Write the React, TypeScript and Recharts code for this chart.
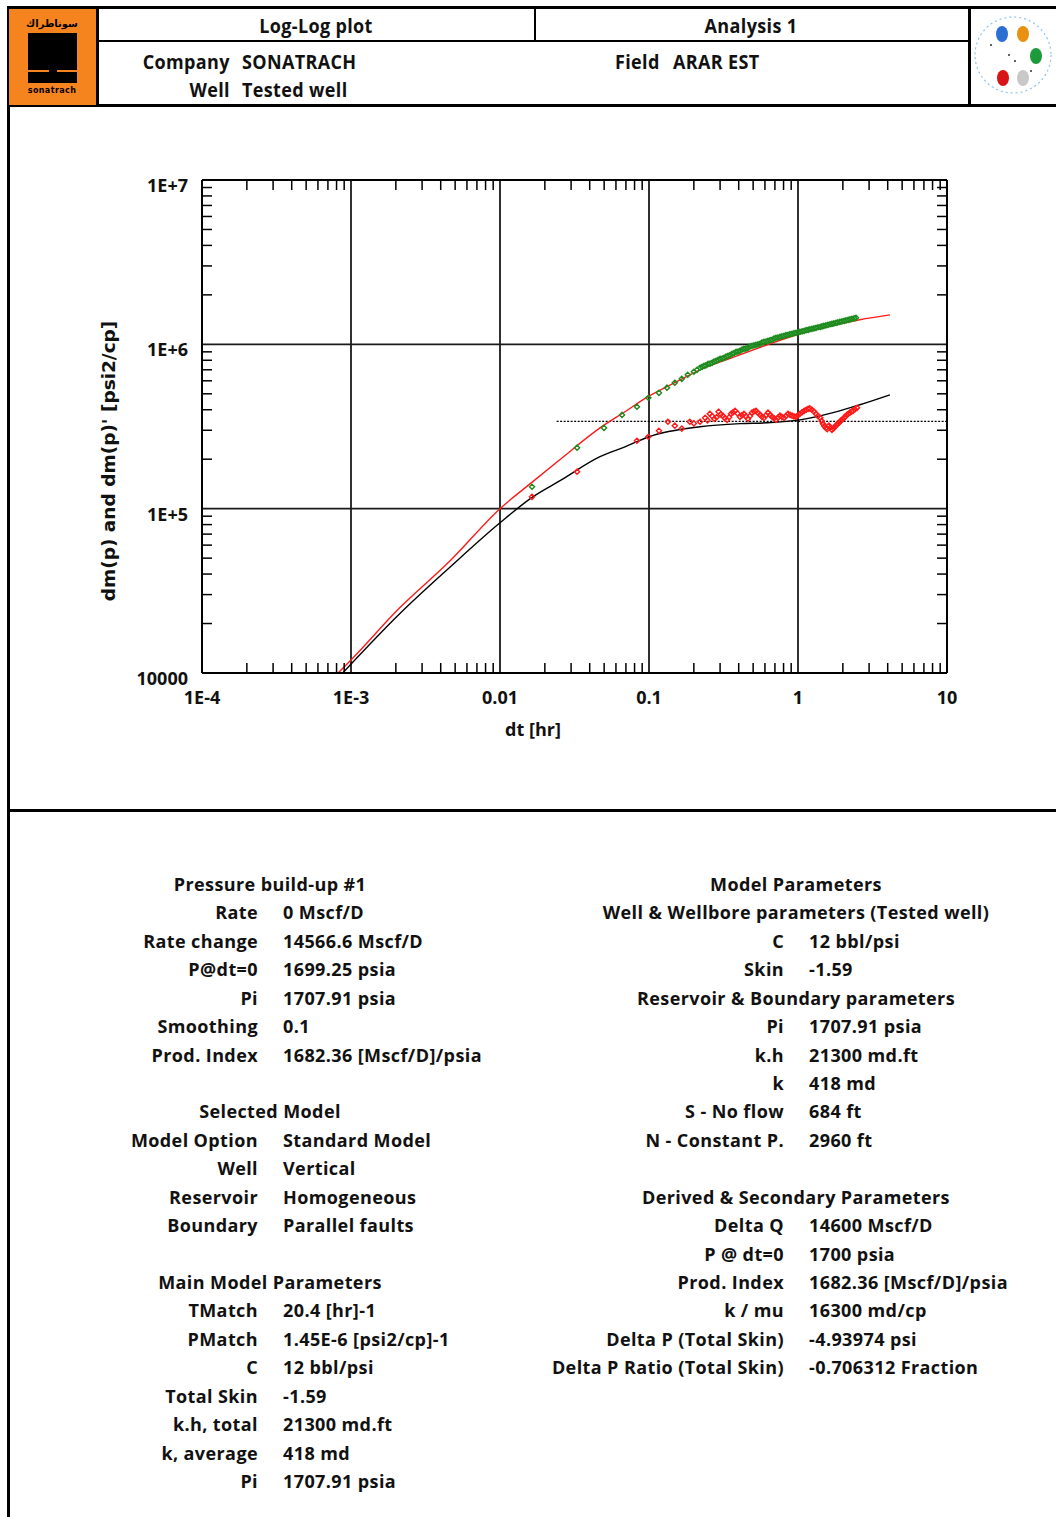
import { CartesianGrid, ComposedChart, Line, Scatter, XAxis, YAxis } from "recharts";

const xMajorTicks = [1e-4, 1e-3, 0.01, 0.1, 1, 10];
const xTickLabels = ["1E-4", "1E-3", "0.01", "0.1", "1", "10"];
const yMajorTicks = [1e4, 1e5, 1e6, 1e7];
const yTickLabels = ["10000", "1E+5", "1E+6", "1E+7"];
const minorSteps = [2, 3, 4, 5, 6, 7, 8, 9];
const xMinorTicks = [1e-4, 1e-3, 0.01, 0.1, 1].flatMap((d) => minorSteps.map((m) => m * d));
const yMinorTicks = [1e4, 1e5, 1e6].flatMap((d) => minorSteps.map((m) => m * d));

// model curves [dt hr, dm(p)]
const modelPressure: [number, number][] = [
  [8.2e-4, 1.0e4], [1e-3, 1.2e4], [2.13e-3, 2.5e4], [4.61e-3, 4.8e4], [0.01, 1.0e5],
  [0.0166, 1.46e5], [0.0253, 1.99e5], [0.0469, 3.1e5], [0.069, 3.89e5], [0.0985, 4.8e5],
  [0.149, 5.84e5], [0.22, 7.0e5], [0.366, 8.34e5], [0.62, 9.93e5], [1.03, 1.16e6],
  [1.72, 1.3e6], [2.6, 1.41e6], [4.14, 1.51e6],
];
const modelDerivative: [number, number][] = [
  [8.8e-4, 1.0e4], [2.13e-3, 2.3e4], [4.61e-3, 4.4e4], [0.01, 8.2e4], [0.0166, 1.18e5],
  [0.0253, 1.48e5], [0.0469, 2.07e5], [0.069, 2.38e5], [0.1, 2.74e5], [0.22, 3.15e5],
  [0.408, 3.29e5], [0.62, 3.33e5], [1.03, 3.47e5], [1.72, 3.84e5], [2.6, 4.29e5], [4.14, 4.93e5],
];
const stabilization: [number, number][] = [[0.024, 3.4e5], [10, 3.4e5]];

// measured data
const pressureData: [number, number][] = [
  [0.0164, 1.36e5], [0.0329, 2.35e5], [0.0499, 3.1e5], [0.0659, 3.72e5], [0.083, 4.17e5],
  [0.099, 4.73e5], [0.1166, 5.07e5], [0.132, 5.45e5], [0.149, 5.84e5], [0.166, 6.17e5],
  [0.182, 6.53e5], [0.2, 6.81e5], [0.21, 7.0e5], [0.22, 7.2e5], [0.227, 7.3e5], [0.234, 7.39e5],
  [0.241, 7.45e5], [0.249, 7.6e5], [0.257, 7.64e5], [0.265, 7.72e5], [0.273, 7.85e5],
  [0.282, 7.94e5], [0.291, 8.05e5], [0.3, 8.17e5], [0.31, 8.2e5], [0.319, 8.28e5],
  [0.329, 8.42e5], [0.339, 8.51e5], [0.35, 8.6e5], [0.361, 8.75e5], [0.372, 8.85e5],
  [0.384, 9.0e5], [0.396, 9.03e5], [0.408, 9.12e5], [0.421, 9.3e5], [0.434, 9.39e5],
  [0.447, 9.42e5], [0.461, 9.52e5], [0.476, 9.7e5], [0.491, 9.79e5], [0.506, 9.85e5],
  [0.522, 9.93e5], [0.539, 1.0e6], [0.556, 1.007e6], [0.573, 1.025e6], [0.591, 1.035e6],
  [0.61, 1.04e6], [0.629, 1.05e6], [0.65, 1.06e6], [0.67, 1.065e6], [0.69, 1.085e6],
  [0.711, 1.095e6], [0.733, 1.1e6], [0.757, 1.11e6], [0.78, 1.12e6], [0.805, 1.127e6],
  [0.83, 1.137e6], [0.857, 1.143e6], [0.884, 1.155e6], [0.912, 1.159e6], [0.94, 1.17e6],
  [0.97, 1.175e6], [1.0, 1.185e6], [1.03, 1.191e6], [1.065, 1.2e6], [1.1, 1.208e6],
  [1.135, 1.22e6], [1.17, 1.225e6], [1.2, 1.235e6], [1.24, 1.242e6], [1.28, 1.25e6],
  [1.32, 1.259e6], [1.36, 1.27e6], [1.41, 1.277e6], [1.45, 1.285e6], [1.49, 1.295e6],
  [1.54, 1.305e6], [1.59, 1.314e6], [1.64, 1.325e6], [1.69, 1.333e6], [1.74, 1.34e6],
  [1.8, 1.352e6], [1.85, 1.36e6], [1.91, 1.371e6], [1.97, 1.38e6], [2.04, 1.39e6],
  [2.1, 1.4e6], [2.17, 1.41e6], [2.23, 1.42e6], [2.3, 1.43e6], [2.38, 1.44e6], [2.45, 1.45e6],
];
const derivativeData: [number, number][] = [
  [0.0164, 1.18e5], [0.0329, 1.68e5], [0.083, 2.59e5], [0.099, 2.74e5], [0.1166, 2.98e5],
  [0.134, 3.38e5], [0.149, 3.2e5], [0.166, 3.07e5], [0.188, 3.38e5], [0.2, 3.3e5], [0.22, 3.38e5],
  [0.238, 3.57e5], [0.247, 3.45e5], [0.256, 3.78e5], [0.265, 3.66e5], [0.275, 3.52e5],
  [0.284, 3.6e5], [0.293, 3.89e5], [0.303, 3.75e5], [0.313, 3.68e5], [0.323, 3.55e5],
  [0.334, 3.47e5], [0.345, 3.6e5], [0.355, 3.78e5], [0.366, 3.85e5], [0.378, 3.94e5],
  [0.393, 3.8e5], [0.408, 3.62e5], [0.421, 3.7e5], [0.434, 3.78e5], [0.447, 3.64e5],
  [0.461, 3.52e5], [0.476, 3.66e5], [0.491, 3.84e5], [0.506, 3.9e5], [0.522, 3.94e5],
  [0.539, 3.82e5], [0.556, 3.73e5], [0.573, 3.62e5], [0.591, 3.57e5], [0.61, 3.7e5],
  [0.629, 3.84e5], [0.65, 3.72e5], [0.67, 3.62e5], [0.69, 3.55e5], [0.711, 3.47e5],
  [0.733, 3.58e5], [0.757, 3.68e5], [0.78, 3.62e5], [0.805, 3.57e5], [0.83, 3.66e5],
  [0.857, 3.78e5], [0.884, 3.72e5], [0.912, 3.68e5], [0.94, 3.64e5], [0.97, 3.62e5],
  [1.0, 3.7e5], [1.03, 3.78e5], [1.065, 3.86e5], [1.1, 3.94e5], [1.135, 4.0e5],
  [1.17, 4.05e5], [1.2, 4.08e5], [1.24, 4.0e5], [1.28, 3.9e5], [1.32, 3.78e5],
  [1.36, 3.66e5], [1.41, 3.57e5], [1.44, 3.42e5], [1.47, 3.29e5], [1.5, 3.18e5],
  [1.54, 3.1e5], [1.57, 3.05e5], [1.61, 3.2e5], [1.65, 3.12e5], [1.69, 3.02e5],
  [1.73, 3.08e5], [1.77, 3.15e5], [1.81, 3.22e5], [1.85, 3.29e5], [1.9, 3.36e5],
  [1.94, 3.43e5], [1.99, 3.5e5], [2.04, 3.57e5], [2.08, 3.64e5], [2.13, 3.73e5],
  [2.18, 3.78e5], [2.23, 3.84e5], [2.29, 3.9e5], [2.34, 3.94e5], [2.41, 4.02e5], [2.49, 4.11e5],
];

// text tables: [row, label, value]; label only = centred heading
const leftRows: [number, string, string?][] = [
  [0, "Pressure build-up #1"],
  [1, "Rate", "0 Mscf/D"],
  [2, "Rate change", "14566.6 Mscf/D"],
  [3, "P@dt=0", "1699.25 psia"],
  [4, "Pi", "1707.91 psia"],
  [5, "Smoothing", "0.1"],
  [6, "Prod. Index", "1682.36 [Mscf/D]/psia"],
  [8, "Selected Model"],
  [9, "Model Option", "Standard Model"],
  [10, "Well", "Vertical"],
  [11, "Reservoir", "Homogeneous"],
  [12, "Boundary", "Parallel faults"],
  [14, "Main Model Parameters"],
  [15, "TMatch", "20.4 [hr]-1"],
  [16, "PMatch", "1.45E-6 [psi2/cp]-1"],
  [17, "C", "12 bbl/psi"],
  [18, "Total Skin", "-1.59"],
  [19, "k.h, total", "21300 md.ft"],
  [20, "k, average", "418 md"],
  [21, "Pi", "1707.91 psia"],
];
const rightRows: [number, string, string?][] = [
  [0, "Model Parameters"],
  [1, "Well & Wellbore parameters (Tested well)"],
  [2, "C", "12 bbl/psi"],
  [3, "Skin", "-1.59"],
  [4, "Reservoir & Boundary parameters"],
  [5, "Pi", "1707.91 psia"],
  [6, "k.h", "21300 md.ft"],
  [7, "k", "418 md"],
  [8, "S - No flow", "684 ft"],
  [9, "N - Constant P.", "2960 ft"],
  [11, "Derived & Secondary Parameters"],
  [12, "Delta Q", "14600 Mscf/D"],
  [13, "P @ dt=0", "1700 psia"],
  [14, "Prod. Index", "1682.36 [Mscf/D]/psia"],
  [15, "k / mu", "16300 md/cp"],
  [16, "Delta P (Total Skin)", "-4.93974 psi"],
  [17, "Delta P Ratio (Total Skin)", "-0.706312 Fraction"],
];

const toPts = (arr: [number, number][]) => arr.map(([t, p]) => ({ t, p }));

const FONT = "'Open Sans', 'Noto Sans', sans-serif";
const INK = "#111";

const XTick = (props: any) => {
  const i = xMajorTicks.indexOf(props.payload.value);
  return (
    <text x={props.x} y={props.y + 31} textAnchor="middle" fontFamily={FONT} fontWeight={700} fontSize={18} fill={INK}>
      {xTickLabels[i]}
    </text>
  );
};

const YTick = (props: any) => {
  const i = yMajorTicks.indexOf(props.payload.value);
  return (
    <text x={props.x - 14} y={props.y + 12} textAnchor="end" fontFamily={FONT} fontWeight={700} fontSize={18} fill={INK}>
      {yTickLabels[i]}
    </text>
  );
};

const EmptyTick = () => <g />;

const Diamond = (color: string) => (props: any) => {
  const { cx, cy } = props;
  if (cx == null || cy == null) return <g />;
  return (
    <path d={`M${cx},${cy - 2.6}L${cx + 2.6},${cy}L${cx},${cy + 2.6}L${cx - 2.6},${cy}Z`} fill="none" stroke={color} strokeWidth={1.4} />
  );
};

const tickStroke = { stroke: "#000", strokeWidth: 1.5 };
const border = { stroke: "#000", strokeWidth: 2 };

const LogLogChart = () => (
  <ComposedChart width={1000} height={660} margin={{ top: 70, right: 53, bottom: 37, left: 0 }}>
    <CartesianGrid stroke="#1a1a1a" strokeWidth={1.8} />
    <XAxis
      dataKey="t"
      type="number"
      scale="log"
      domain={[1e-4, 10]}
      allowDataOverflow
      ticks={xMajorTicks}
      interval={0}
      tickLine={false}
      tickSize={0}
      tickMargin={0}
      height={60}
      axisLine={border}
      tick={<XTick />}
      label={(p: any) => {
        const vb = p.viewBox || { x: 202, y: 563 };
        return (
          <text x={vb.x + 331} y={vb.y + 63} textAnchor="middle" fontFamily={FONT} fontWeight={700} fontSize={18} fill={INK}>
            dt [hr]
          </text>
        );
      }}
    />
    <XAxis xAxisId="bm" dataKey="t" type="number" scale="log" domain={[1e-4, 10]} allowDataOverflow ticks={xMinorTicks}
      interval={0} tick={<EmptyTick />} tickSize={10} mirror axisLine={false} tickLine={tickStroke} />
    <XAxis xAxisId="tm" dataKey="t" orientation="top" type="number" scale="log" domain={[1e-4, 10]} allowDataOverflow ticks={xMinorTicks}
      interval={0} tick={<EmptyTick />} tickSize={10} mirror axisLine={border} tickLine={tickStroke} />
    <YAxis
      type="number"
      scale="log"
      domain={[1e4, 1e7]}
      allowDataOverflow
      ticks={yMajorTicks}
      interval={0}
      tickLine={false}
      tickSize={0}
      tickMargin={0}
      width={202}
      axisLine={border}
      tick={<YTick />}
      label={(p: any) => {
        const vb = p.viewBox || { x: 0, y: 70 };
        const x = vb.x + 108;
        const y = vb.y + 281;
        return (
          <text x={x} y={y} transform={`rotate(-90, ${x}, ${y})`} textAnchor="middle" dominantBaseline="central"
            fontFamily="'DejaVu Sans', sans-serif" fontWeight={700} fontSize={18.5} fill={INK}>
            {"dm(p) and dm(p)'  [psi2/cp]"}
          </text>
        );
      }}
    />
    <YAxis yAxisId="lm" type="number" scale="log" domain={[1e4, 1e7]} allowDataOverflow ticks={yMinorTicks}
      interval={0} tick={<EmptyTick />} tickSize={10} mirror axisLine={false} tickLine={tickStroke} />
    <YAxis yAxisId="rm" orientation="right" type="number" scale="log" domain={[1e4, 1e7]} allowDataOverflow ticks={yMinorTicks}
      interval={0} tick={<EmptyTick />} tickSize={10} mirror axisLine={border} tickLine={tickStroke} />
    <Line data={toPts(stabilization)} dataKey="p" stroke="#000" strokeWidth={1.3} strokeDasharray="2 1.5" dot={false} isAnimationActive={false} />
    <Line type="monotone" data={toPts(modelDerivative)} dataKey="p" stroke="#000" strokeWidth={1.4} dot={false} isAnimationActive={false} />
    <Line type="monotone" data={toPts(modelPressure)} dataKey="p" stroke="#ff1a1a" strokeWidth={1.4} dot={false} isAnimationActive={false} />
    <Scatter data={toPts(derivativeData)} dataKey="p" shape={Diamond("#ff1a1a")} isAnimationActive={false} />
    <Scatter data={toPts(pressureData)} dataKey="p" shape={Diamond("#1e8c1e")} isAnimationActive={false} />
  </ComposedChart>
);

const ROW0 = 884;
const ROW_H = 28.43;

const TextTable = ({ rows, split }: { rows: [number, string, string?][]; split: number }) => (
  <>
    {rows.map(([r, label, value]) => {
      const top = ROW0 + r * ROW_H - 13;
      if (value === undefined) {
        return (
          <div key={r} style={{ position: "absolute", top, left: split - 300, width: 600, textAlign: "center", lineHeight: "26px" }}>
            {label}
          </div>
        );
      }
      return (
        <div key={r}>
          <div style={{ position: "absolute", top, right: 1056 - (split - 12), whiteSpace: "nowrap", lineHeight: "26px" }}>{label}</div>
          <div style={{ position: "absolute", top, left: split + 13, whiteSpace: "nowrap", lineHeight: "26px" }}>{value}</div>
        </div>
      );
    })}
  </>
);

const line = (style: React.CSSProperties) => <div style={{ position: "absolute", background: "#000", ...style }} />;

const SonatrachLogo = () => (
  <svg width={87} height={96} style={{ position: "absolute", left: 9, top: 9 }}>
    <rect x={0} y={0} width={87} height={96} fill="#f5841f" />
    <text x={43} y={18} textAnchor="middle" fontSize={10} fontWeight={700} fontFamily="'DejaVu Sans', sans-serif" fill="#000">
      سوناطراك
    </text>
    <rect x={19} y={24} width={49} height={37} fill="#000" />
    <rect x={19} y={63} width={49} height={11} fill="#000" />
    <rect x={40} y={60} width={8} height={4} fill="#000" />
    <text x={43} y={84} textAnchor="middle" fontSize={8} fontWeight={700} fontFamily="'DejaVu Sans', sans-serif" fill="#000">
      sonatrach
    </text>
  </svg>
);

const BallsLogo = () => (
  <svg width={84} height={96} style={{ position: "absolute", left: 971, top: 9 }}>
    <circle cx={42} cy={46} r={38} fill="none" stroke="#8cc4f0" strokeWidth={1.2} strokeDasharray="2 3" />
    <ellipse cx={31} cy={25} rx={6} ry={8} fill="#2a6fd1" />
    <ellipse cx={52} cy={25} rx={6} ry={8} fill="#e8900f" />
    <ellipse cx={65} cy={47} rx={6} ry={8} fill="#1d9a3a" />
    <ellipse cx={32} cy={69} rx={6} ry={8} fill="#d81414" />
    <ellipse cx={52} cy={69} rx={6} ry={8} fill="#c8c8c8" />
    <circle cx={20} cy={36} r={1} fill="#333" />
    <circle cx={44} cy={52} r={1} fill="#333" />
    <circle cx={38} cy={46} r={1} fill="#333" />
    <circle cx={60} cy={62} r={1} fill="#333" />
  </svg>
);

const headText: React.CSSProperties = {
  position: "absolute",
  fontFamily: "'Open Sans', sans-serif",
  fontWeight: 700,
  fontSize: 20,
  lineHeight: "26px",
  whiteSpace: "nowrap",
  transform: "scaleX(0.9)",
};

export default function App() {
  return (
    <div style={{ position: "absolute", left: 0, top: 0, width: 1056, height: 1517, background: "#fff", overflow: "hidden", fontFamily: FONT, fontWeight: 700, fontSize: 18, letterSpacing: 0.4, color: INK }}>
      {/* frame */}
      {line({ left: 7, top: 6, width: 1049, height: 3 })}
      {line({ left: 7, top: 6, width: 3, height: 1511 })}
      {line({ left: 96, top: 6, width: 3, height: 101 })}
      {line({ left: 968, top: 6, width: 3, height: 101 })}
      {line({ left: 534, top: 8, width: 2, height: 33 })}
      {line({ left: 98, top: 40, width: 870, height: 2 })}
      {line({ left: 7, top: 104, width: 1049, height: 3 })}
      {line({ left: 7, top: 809, width: 1049, height: 3 })}
      <SonatrachLogo />
      <BallsLogo />
      <div style={{ ...headText, left: 216, width: 200, top: 13, textAlign: "center" }}>Log-Log plot</div>
      <div style={{ ...headText, left: 651, width: 200, top: 13, textAlign: "center" }}>Analysis 1</div>
      <div style={{ ...headText, right: 1056 - 230, top: 49, transformOrigin: "right" }}>Company</div>
      <div style={{ ...headText, left: 242, top: 49, transformOrigin: "left" }}>SONATRACH</div>
      <div style={{ ...headText, right: 1056 - 230, top: 77, transformOrigin: "right" }}>Well</div>
      <div style={{ ...headText, left: 242, top: 77, transformOrigin: "left" }}>Tested well</div>
      <div style={{ ...headText, right: 1056 - 660, top: 49, transformOrigin: "right" }}>Field</div>
      <div style={{ ...headText, left: 673, top: 49, transformOrigin: "left" }}>ARAR EST</div>
      <div style={{ position: "absolute", left: 0, top: 110, letterSpacing: 0 }}>
        <LogLogChart />
      </div>
      <TextTable rows={leftRows} split={270} />
      <TextTable rows={rightRows} split={796} />
    </div>
  );
}
